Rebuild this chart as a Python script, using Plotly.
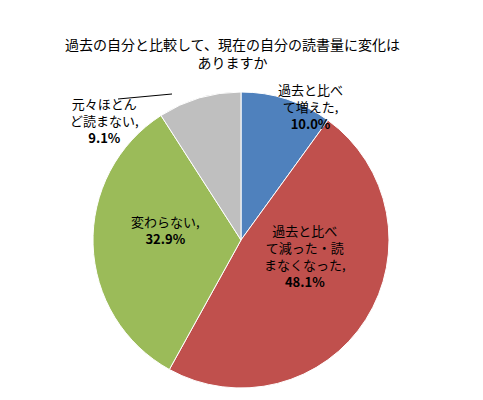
import plotly.graph_objects as go

labels = ["過去と比べて増えた", "過去と比べて減った・読まなくなった", "変わらない", "元々ほとんど読まない"]
values = [10.0, 48.1, 32.9, 9.1]
label_text = ["過去と比べ<br>て増えた,", "過去と比べ<br>て減った・読<br>まなくなった,", "変わらない,", "元々ほとん<br>ど読まない,"]
colors = ["#4F81BD", "#C0504D", "#9BBB59", "#BFBFBF"]
label_pos = [(345, 78), (305, 256), (165, 230), (68, 92)]

OFF = 8
W, H = 483 - 2 * OFF, 400 - 2 * OFF
px_ = lambda p: (p - OFF) / W
py_ = lambda p: 1 - (p - OFF) / H

fig = go.Figure(go.Pie(
    labels=labels, values=values, sort=False, direction="clockwise", rotation=0,
    marker=dict(colors=colors, line=dict(color="white", width=1)),
    textinfo="none", hoverinfo="label+percent",
    domain=dict(x=[px_(93), px_(389)], y=[py_(388), py_(92)]), showlegend=False))

for t, v, (x, y) in zip(label_text, values, label_pos):
    fig.add_annotation(x=px_(x), y=py_(y), xref="paper", yref="paper", showarrow=False,
                       text=f"{t}<br><b>{v:.1f}%</b>", align="center",
                       font=dict(size=13, color="black", family="Noto Sans CJK JP"))

fig.add_shape(type="line", xref="paper", yref="paper", x0=px_(118), y0=py_(99), x1=px_(172), y1=py_(94),
              line=dict(color="black", width=1))
fig.add_shape(type="rect", xref="paper", yref="paper", x0=px_(1), y0=py_(398), x1=px_(481), y1=py_(1),
              line=dict(color="#888888", width=1))
fig.add_annotation(x=px_(232), y=py_(32), xref="paper", yref="paper", showarrow=False,
                   text="過去の自分と比較して、現在の自分の読書量に変化は<br>ありますか",
                   font=dict(size=14, color="black", family="Noto Sans CJK JP"))

fig.update_xaxes(visible=False)
fig.update_yaxes(visible=False)
fig.update_layout(width=W, height=H, margin=dict(l=0, r=0, t=0, b=0),
                  paper_bgcolor="white", plot_bgcolor="white")
fig.write_html("out.html")
